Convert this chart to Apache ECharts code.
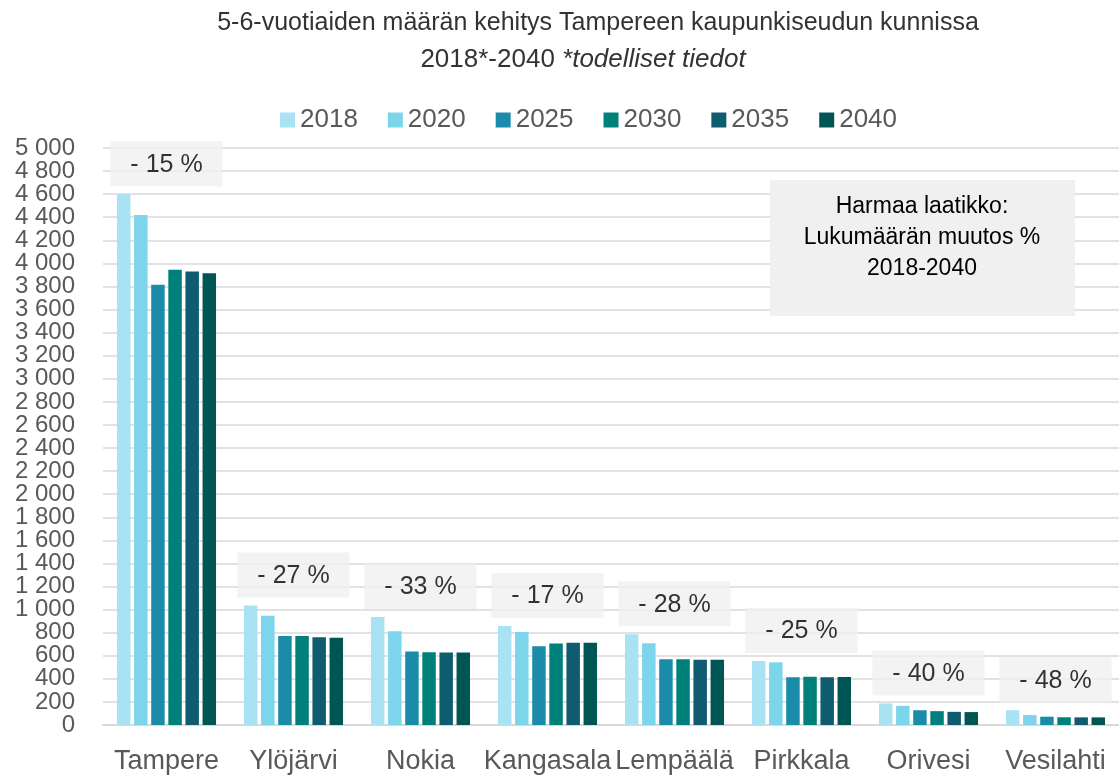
<!DOCTYPE html>
<html>
<head>
<meta charset="utf-8">
<script src="https://cdn.jsdelivr.net/npm/echarts@6/dist/echarts.min.js"></script>
<style>
  html, body { margin: 0; padding: 0; background: #fff; }
  #chart { width: 1119px; height: 775px; }
</style>
</head>
<body>
<div id="chart"></div>
<script>
// kunnat
const kunnat = ['Tampere', 'Ylöjärvi', 'Nokia', 'Kangasala', 'Lempäälä', 'Pirkkala', 'Orivesi', 'Vesilahti']
const vuodet = ['2018', '2020', '2025', '2030', '2035', '2040']
// 5-6-vuotiaiden lukumäärät vuosittain
const v2018 = [4600, 1035, 935, 858, 787, 555, 187, 128]
const v2020 = [4420, 946, 812, 806, 709, 543, 166, 86]
const v2025 = [3815, 771, 636, 682, 569, 414, 128, 72]
const v2030 = [3945, 771, 631, 707, 569, 418, 120, 67]
const v2035 = [3930, 760, 628, 712, 566, 414, 114, 66]
const v2040 = [3915, 756, 628, 712, 566, 416, 112, 66]
// muutos % 2018-2040 (harmaat laatikot)
const muutos = [-15, -27, -33, -17, -28, -25, -40, -48]
// y-akselin ääripäät
const yMin = 0
const yMax = 5000

const varit = ['#a9e2f3', '#7cd5eb', '#1a8ca9', '#00807b', '#0f5c70', '#005655']
const sarjat = [v2018, v2020, v2025, v2030, v2035, v2040]
const fontti = '"Liberation Sans", Arial, sans-serif'

const chart = echarts.init(document.getElementById('chart'))

const series = sarjat.map((d, i) => ({
    name: vuodet[i],
    type: 'bar',
    data: d,
    barGap: '27%',
    barCategoryGap: '22%',
    itemStyle: { color: varit[i] }
}))

// muutoslaatikot ryhmien päälle
series.push({
    name: 'muutos',
    type: 'scatter',
    data: v2018,
    symbolSize: 0,
    z: 10,
    silent: true,
    label: {
        show: true,
        position: 'top',
        distance: 8,
        formatter: p => '- ' + Math.abs(muutos[p.dataIndex]) + ' %',
        backgroundColor: '#f0f0f0',
        padding: [11, 20, 9, 20],
        color: '#000',
        fontSize: 25,
        fontFamily: fontti
    }
})

const muotoile = v => String(v).replace(/\B(?=(\d{3})+(?!\d))/g, ' ')
const yLabel = {
    margin: 28,
    fontSize: 24,
    color: '#595959',
    fontFamily: fontti,
    formatter: muotoile
}

const option = {
    animation: false,
    textStyle: { fontFamily: fontti },
    title: [
        {
            text: '5-6-vuotiaiden määrän kehitys Tampereen kaupunkiseudun kunnissa',
            left: 593,
            textAlign: 'center',
            top: 6,
            textStyle: { fontSize: 25, fontWeight: 'normal', color: '#333', fontFamily: fontti }
        },
        {
            text: '2018*-2040 {i|*todelliset tiedot}',
            left: 578,
            textAlign: 'center',
            top: 42,
            textStyle: {
                fontSize: 26, fontWeight: 'normal', color: '#333', fontFamily: fontti,
                rich: { i: { fontSize: 26, fontStyle: 'italic', color: '#333', fontFamily: fontti } }
            }
        }
    ],
    legend: {
        data: vuodet,
        top: 102,
        left: 275,
        icon: 'rect',
        itemWidth: 15,
        itemHeight: 15,
        itemGap: 30,
        textStyle: { fontSize: 26, color: '#595959', fontFamily: fontti }
    },
    grid: {
        left: 103,
        top: 148,
        width: 1024,
        bottom: 50,
        containLabel: false
    },
    xAxis: {
        type: 'category',
        data: kunnat,
        axisTick: { show: false },
        axisLine: { lineStyle: { color: '#d9d9d9', width: 2 } },
        axisLabel: { margin: 23, fontSize: 27, color: '#595959', fontFamily: fontti, interval: 0 }
    },
    yAxis: [
        {
            type: 'value',
            min: yMin,
            max: yMax,
            interval: 200,
            axisLine: { show: false },
            axisTick: { show: false },
            splitLine: { lineStyle: { color: '#d9d9d9', width: 1.5 } },
            // ääripäät piirtää toinen akseli
            axisLabel: Object.assign({ showMinLabel: false, showMaxLabel: false }, yLabel)
        },
        {
            type: 'value',
            min: yMin,
            max: yMax,
            interval: 200,
            position: 'left',
            axisLine: { show: false },
            axisTick: { show: false },
            splitLine: { show: false },
            axisLabel: Object.assign({ showMinLabel: true, showMaxLabel: true, customValues: [yMin, yMax] }, yLabel)
        }
    ],
    graphic: [
        {
            type: 'rect',
            shape: { x: 770, y: 180, width: 305, height: 136 },
            style: { fill: '#f0f0f0' },
            z: 20
        },
        {
            type: 'text',
            x: 922,
            y: 191,
            z: 21,
            style: {
                text: 'Harmaa laatikko:\nLukumäärän muutos %\n2018-2040',
                align: 'center',
                lineHeight: 31,
                font: '23px "Liberation Sans", Arial, sans-serif',
                fill: '#000'
            }
        }
    ],
    series: series
}

chart.setOption(option)
</script>
</body>
</html>
